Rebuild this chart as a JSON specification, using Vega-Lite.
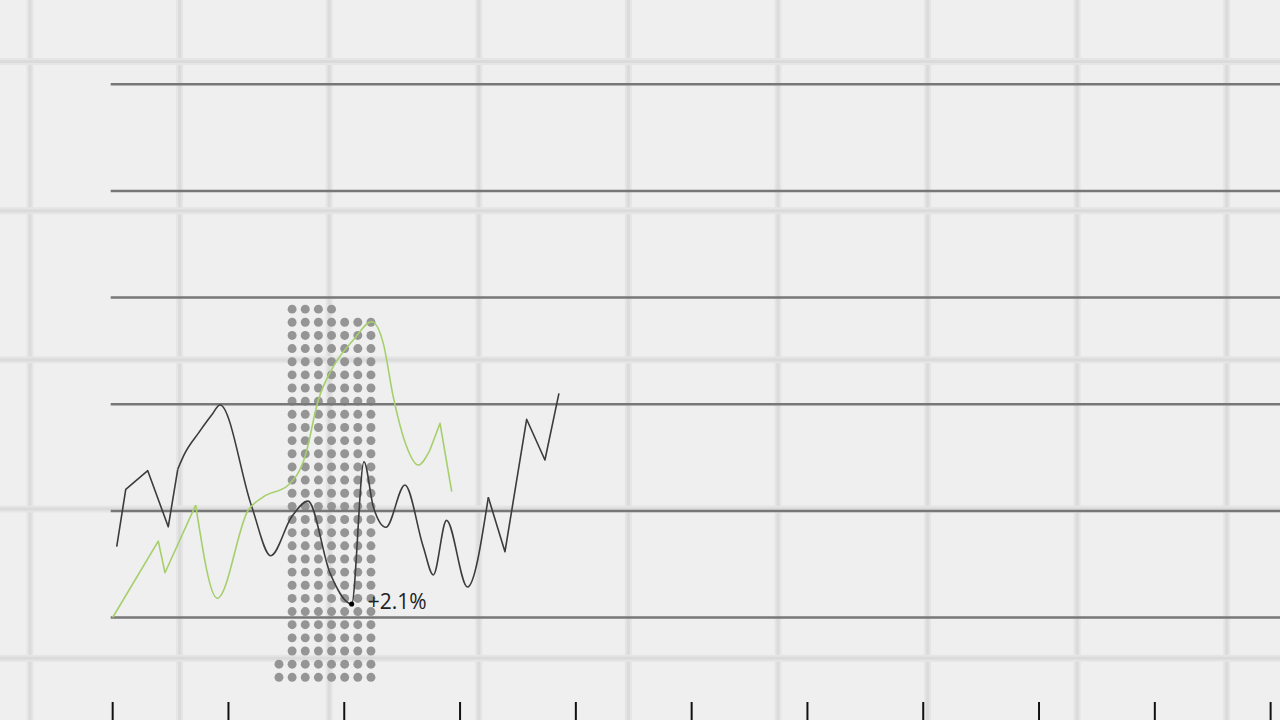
{
  "$schema": "https://vega.github.io/schema/vega-lite/v6.json",
  "description": "Two traces over a dot column, on a paper grid.",
  "width": 1280,
  "height": 720,
  "padding": 0,
  "autosize": {"type": "none"},
  "background": "#efefef",
  "config": {"view": {"stroke": null}},
  "datasets": {
    "paperX": [{"i": 0}, {"i": 1}, {"i": 2}, {"i": 3}, {"i": 4}, {"i": 5}, {"i": 6}, {"i": 7}, {"i": 8}],
    "paperY": [{"j": 0}, {"j": 1}, {"j": 2}, {"j": 3}, {"j": 4}],
    "dots": [
      {"c": 0, "r": 0}, {"c": 0, "r": 1},
      {"c": 1, "r": 0}, {"c": 1, "r": 1}, {"c": 1, "r": 2}, {"c": 1, "r": 3}, {"c": 1, "r": 4}, {"c": 1, "r": 5}, {"c": 1, "r": 6}, {"c": 1, "r": 7}, {"c": 1, "r": 8}, {"c": 1, "r": 9}, {"c": 1, "r": 10}, {"c": 1, "r": 11}, {"c": 1, "r": 12}, {"c": 1, "r": 13}, {"c": 1, "r": 14}, {"c": 1, "r": 15}, {"c": 1, "r": 16}, {"c": 1, "r": 17}, {"c": 1, "r": 18}, {"c": 1, "r": 19}, {"c": 1, "r": 20}, {"c": 1, "r": 21}, {"c": 1, "r": 22}, {"c": 1, "r": 23}, {"c": 1, "r": 24}, {"c": 1, "r": 25}, {"c": 1, "r": 26}, {"c": 1, "r": 27}, {"c": 1, "r": 28},
      {"c": 2, "r": 0}, {"c": 2, "r": 1}, {"c": 2, "r": 2}, {"c": 2, "r": 3}, {"c": 2, "r": 4}, {"c": 2, "r": 5}, {"c": 2, "r": 6}, {"c": 2, "r": 7}, {"c": 2, "r": 8}, {"c": 2, "r": 9}, {"c": 2, "r": 10}, {"c": 2, "r": 11}, {"c": 2, "r": 12}, {"c": 2, "r": 13}, {"c": 2, "r": 14}, {"c": 2, "r": 15}, {"c": 2, "r": 16}, {"c": 2, "r": 17}, {"c": 2, "r": 18}, {"c": 2, "r": 19}, {"c": 2, "r": 20}, {"c": 2, "r": 21}, {"c": 2, "r": 22}, {"c": 2, "r": 23}, {"c": 2, "r": 24}, {"c": 2, "r": 25}, {"c": 2, "r": 26}, {"c": 2, "r": 27}, {"c": 2, "r": 28},
      {"c": 3, "r": 0}, {"c": 3, "r": 1}, {"c": 3, "r": 2}, {"c": 3, "r": 3}, {"c": 3, "r": 4}, {"c": 3, "r": 5}, {"c": 3, "r": 6}, {"c": 3, "r": 7}, {"c": 3, "r": 8}, {"c": 3, "r": 9}, {"c": 3, "r": 10}, {"c": 3, "r": 11}, {"c": 3, "r": 12}, {"c": 3, "r": 13}, {"c": 3, "r": 14}, {"c": 3, "r": 15}, {"c": 3, "r": 16}, {"c": 3, "r": 17}, {"c": 3, "r": 18}, {"c": 3, "r": 19}, {"c": 3, "r": 20}, {"c": 3, "r": 21}, {"c": 3, "r": 22}, {"c": 3, "r": 23}, {"c": 3, "r": 24}, {"c": 3, "r": 25}, {"c": 3, "r": 26}, {"c": 3, "r": 27}, {"c": 3, "r": 28},
      {"c": 4, "r": 0}, {"c": 4, "r": 1}, {"c": 4, "r": 2}, {"c": 4, "r": 3}, {"c": 4, "r": 4}, {"c": 4, "r": 5}, {"c": 4, "r": 6}, {"c": 4, "r": 7}, {"c": 4, "r": 8}, {"c": 4, "r": 9}, {"c": 4, "r": 10}, {"c": 4, "r": 11}, {"c": 4, "r": 12}, {"c": 4, "r": 13}, {"c": 4, "r": 14}, {"c": 4, "r": 15}, {"c": 4, "r": 16}, {"c": 4, "r": 17}, {"c": 4, "r": 18}, {"c": 4, "r": 19}, {"c": 4, "r": 20}, {"c": 4, "r": 21}, {"c": 4, "r": 22}, {"c": 4, "r": 23}, {"c": 4, "r": 24}, {"c": 4, "r": 25}, {"c": 4, "r": 26}, {"c": 4, "r": 27}, {"c": 4, "r": 28},
      {"c": 5, "r": 0}, {"c": 5, "r": 1}, {"c": 5, "r": 2}, {"c": 5, "r": 3}, {"c": 5, "r": 4}, {"c": 5, "r": 5}, {"c": 5, "r": 6}, {"c": 5, "r": 7}, {"c": 5, "r": 8}, {"c": 5, "r": 9}, {"c": 5, "r": 10}, {"c": 5, "r": 11}, {"c": 5, "r": 12}, {"c": 5, "r": 13}, {"c": 5, "r": 14}, {"c": 5, "r": 15}, {"c": 5, "r": 16}, {"c": 5, "r": 17}, {"c": 5, "r": 18}, {"c": 5, "r": 19}, {"c": 5, "r": 20}, {"c": 5, "r": 21}, {"c": 5, "r": 22}, {"c": 5, "r": 23}, {"c": 5, "r": 24}, {"c": 5, "r": 25}, {"c": 5, "r": 26}, {"c": 5, "r": 27},
      {"c": 6, "r": 0}, {"c": 6, "r": 1}, {"c": 6, "r": 2}, {"c": 6, "r": 3}, {"c": 6, "r": 4}, {"c": 6, "r": 5}, {"c": 6, "r": 6}, {"c": 6, "r": 7}, {"c": 6, "r": 8}, {"c": 6, "r": 9}, {"c": 6, "r": 10}, {"c": 6, "r": 11}, {"c": 6, "r": 12}, {"c": 6, "r": 13}, {"c": 6, "r": 14}, {"c": 6, "r": 15}, {"c": 6, "r": 16}, {"c": 6, "r": 17}, {"c": 6, "r": 18}, {"c": 6, "r": 19}, {"c": 6, "r": 20}, {"c": 6, "r": 21}, {"c": 6, "r": 22}, {"c": 6, "r": 23}, {"c": 6, "r": 24}, {"c": 6, "r": 25}, {"c": 6, "r": 26}, {"c": 6, "r": 27},
      {"c": 7, "r": 0}, {"c": 7, "r": 1}, {"c": 7, "r": 2}, {"c": 7, "r": 3}, {"c": 7, "r": 4}, {"c": 7, "r": 5}, {"c": 7, "r": 6}, {"c": 7, "r": 7}, {"c": 7, "r": 8}, {"c": 7, "r": 9}, {"c": 7, "r": 10}, {"c": 7, "r": 11}, {"c": 7, "r": 12}, {"c": 7, "r": 13}, {"c": 7, "r": 14}, {"c": 7, "r": 15}, {"c": 7, "r": 16}, {"c": 7, "r": 17}, {"c": 7, "r": 18}, {"c": 7, "r": 19}, {"c": 7, "r": 20}, {"c": 7, "r": 21}, {"c": 7, "r": 22}, {"c": 7, "r": 23}, {"c": 7, "r": 24}, {"c": 7, "r": 25}, {"c": 7, "r": 26}, {"c": 7, "r": 27}
    ],
    "levels": [{"v": 0}, {"v": 1}, {"v": 2}, {"v": 3}, {"v": 4}, {"v": 5}],
    "ticks": [{"t": 0}, {"t": 1}, {"t": 2}, {"t": 3}, {"t": 4}, {"t": 5}, {"t": 6}, {"t": 7}, {"t": 8}, {"t": 9}, {"t": 10}],
    "series": [
      {"s": "dark", "part": "k1", "interp": "linear", "x": 0.035, "y": 0.664},
      {"s": "dark", "part": "k1", "interp": "linear", "x": 0.113, "y": 1.202},
      {"s": "dark", "part": "k1", "interp": "linear", "x": 0.303, "y": 1.377},
      {"s": "dark", "part": "k1", "interp": "linear", "x": 0.48, "y": 0.851},
      {"s": "dark", "part": "k1", "interp": "linear", "x": 0.562, "y": 1.39},
      {"s": "dark", "part": "k2", "interp": "smooth", "x": 0.562, "y": 1.39},
      {"s": "dark", "part": "k2", "interp": "smooth", "x": 0.625, "y": 1.543},
      {"s": "dark", "part": "k2", "interp": "smooth", "x": 0.739, "y": 1.727},
      {"s": "dark", "part": "k2", "interp": "smooth", "x": 0.855, "y": 1.899},
      {"s": "dark", "part": "k2", "interp": "smooth", "x": 0.927, "y": 1.993},
      {"s": "dark", "part": "k2", "interp": "smooth", "x": 1.201, "y": 1.039},
      {"s": "dark", "part": "k2", "interp": "smooth", "x": 1.365, "y": 0.58},
      {"s": "dark", "part": "k2", "interp": "smooth", "x": 1.546, "y": 0.945},
      {"s": "dark", "part": "k2", "interp": "smooth", "x": 1.687, "y": 1.092},
      {"s": "dark", "part": "k2", "interp": "smooth", "x": 1.877, "y": 0.417},
      {"s": "dark", "part": "k2", "interp": "smooth", "x": 2.064, "y": 0.127},
      {"s": "dark", "part": "k2", "interp": "smooth", "x": 2.17, "y": 1.461},
      {"s": "dark", "part": "k2", "interp": "smooth", "x": 2.251, "y": 1.039},
      {"s": "dark", "part": "k2", "interp": "smooth", "x": 2.36, "y": 0.846},
      {"s": "dark", "part": "k2", "interp": "smooth", "x": 2.524, "y": 1.243},
      {"s": "dark", "part": "k2", "interp": "smooth", "x": 2.682, "y": 0.664},
      {"s": "dark", "part": "k2", "interp": "smooth", "x": 2.769, "y": 0.399},
      {"s": "dark", "part": "k2", "interp": "smooth", "x": 2.883, "y": 0.911},
      {"s": "dark", "part": "k2", "interp": "smooth", "x": 3.064, "y": 0.286},
      {"s": "dark", "part": "k2", "interp": "smooth", "x": 3.244, "y": 1.127},
      {"s": "dark", "part": "k3", "interp": "linear", "x": 3.244, "y": 1.127},
      {"s": "dark", "part": "k3", "interp": "linear", "x": 3.388, "y": 0.617},
      {"s": "dark", "part": "k3", "interp": "linear", "x": 3.575, "y": 1.859},
      {"s": "dark", "part": "k3", "interp": "linear", "x": 3.733, "y": 1.477},
      {"s": "dark", "part": "k3", "interp": "linear", "x": 3.854, "y": 2.102},
      {"s": "green", "part": "g1", "interp": "linear", "x": 0.0, "y": 0.0},
      {"s": "green", "part": "g1", "interp": "linear", "x": 0.394, "y": 0.717},
      {"s": "green", "part": "g1", "interp": "linear", "x": 0.452, "y": 0.42},
      {"s": "green", "part": "g1", "interp": "linear", "x": 0.717, "y": 1.055},
      {"s": "green", "part": "g2", "interp": "smooth", "x": 0.717, "y": 1.055},
      {"s": "green", "part": "g2", "interp": "smooth", "x": 0.904, "y": 0.18},
      {"s": "green", "part": "g2", "interp": "smooth", "x": 1.171, "y": 1.008},
      {"s": "green", "part": "g2", "interp": "smooth", "x": 1.298, "y": 1.13},
      {"s": "green", "part": "g2", "interp": "smooth", "x": 1.517, "y": 1.243},
      {"s": "green", "part": "g2", "interp": "smooth", "x": 1.661, "y": 1.508},
      {"s": "green", "part": "g2", "interp": "smooth", "x": 1.776, "y": 2.04},
      {"s": "green", "part": "g2", "interp": "smooth", "x": 1.905, "y": 2.352},
      {"s": "green", "part": "g2", "interp": "smooth", "x": 2.078, "y": 2.602},
      {"s": "green", "part": "g2", "interp": "smooth", "x": 2.237, "y": 2.774},
      {"s": "green", "part": "g2", "interp": "smooth", "x": 2.337, "y": 2.571},
      {"s": "green", "part": "g2", "interp": "smooth", "x": 2.423, "y": 2.071},
      {"s": "green", "part": "g2", "interp": "smooth", "x": 2.539, "y": 1.602},
      {"s": "green", "part": "g2", "interp": "smooth", "x": 2.639, "y": 1.43},
      {"s": "green", "part": "g2", "interp": "smooth", "x": 2.74, "y": 1.571},
      {"s": "green", "part": "g3", "interp": "linear", "x": 2.74, "y": 1.571},
      {"s": "green", "part": "g3", "interp": "linear", "x": 2.827, "y": 1.821},
      {"s": "green", "part": "g3", "interp": "linear", "x": 2.928, "y": 1.18}
    ],
    "callout": [{"x": 2.064, "y": 0.127, "label": "+2.1%"}]
  },
  "layer": [
    {
      "data": {"name": "paperX"},
      "mark": {"type": "rule", "color": "#e5e5e5", "strokeWidth": 7},
      "encoding": {
        "x": {"field": "i", "type": "quantitative", "axis": null, "scale": {"domain": [-0.2005, 8.356], "nice": false, "zero": false}}
      }
    },
    {
      "data": {"name": "paperX"},
      "mark": {"type": "rule", "color": "#dbdbdb", "strokeWidth": 3},
      "encoding": {
        "x": {"field": "i", "type": "quantitative", "axis": null, "scale": {"domain": [-0.2005, 8.356], "nice": false, "zero": false}}
      }
    },
    {
      "data": {"name": "paperY"},
      "mark": {"type": "rule", "color": "#e5e5e5", "strokeWidth": 7},
      "encoding": {
        "y": {"field": "j", "type": "quantitative", "axis": null, "scale": {"domain": [-0.412, 4.414], "reverse": true, "nice": false, "zero": false}}
      }
    },
    {
      "data": {"name": "paperY"},
      "mark": {"type": "rule", "color": "#dbdbdb", "strokeWidth": 3},
      "encoding": {
        "y": {"field": "j", "type": "quantitative", "axis": null, "scale": {"domain": [-0.412, 4.414], "reverse": true, "nice": false, "zero": false}}
      }
    },
    {
      "data": {"name": "dots"},
      "mark": {"type": "circle", "color": "#959595", "opacity": 1, "size": 80},
      "encoding": {
        "x": {"field": "c", "type": "quantitative", "axis": null, "scale": {"domain": [-21.23, 76.18], "nice": false, "zero": false}},
        "y": {"field": "r", "type": "quantitative", "axis": null, "scale": {"domain": [-3.247, 51.51], "nice": false, "zero": false}}
      }
    },
    {
      "encoding": {
        "x": {"type": "quantitative", "scale": {"domain": [-0.973, 10.081], "nice": false, "zero": false}},
        "y": {"type": "quantitative", "scale": {"domain": [-0.961, 5.791], "nice": false, "zero": false}}
      },
      "layer": [
        {
          "data": {"name": "levels"},
          "mark": {"type": "rule", "color": "#777777", "strokeWidth": 2.5},
          "encoding": {
            "x": {"datum": -0.017, "type": "quantitative", "axis": null},
            "x2": {"datum": 10.081},
            "y": {"field": "v", "type": "quantitative", "axis": null}
          }
        },
        {
          "data": {"name": "ticks"},
          "mark": {"type": "rule", "color": "#111111", "strokeWidth": 2},
          "encoding": {
            "x": {"field": "t", "type": "quantitative", "axis": null},
            "y": {"datum": -0.792, "type": "quantitative", "axis": null},
            "y2": {"datum": -0.961}
          }
        },
        {
          "data": {"name": "series"},
          "transform": [{"filter": "datum.interp === 'smooth'"}],
          "mark": {"type": "line", "interpolate": "monotone", "strokeWidth": 1.6, "strokeJoin": "round"},
          "encoding": {
            "x": {"field": "x", "type": "quantitative", "axis": null},
            "y": {"field": "y", "type": "quantitative", "axis": null},
            "detail": {"field": "part", "type": "nominal"},
            "color": {"field": "s", "type": "nominal", "legend": null, "scale": {"domain": ["dark", "green"], "range": ["#3c3c3c", "#a6cf6c"]}}
          }
        },
        {
          "data": {"name": "series"},
          "transform": [{"filter": "datum.interp === 'linear'"}],
          "mark": {"type": "line", "interpolate": "linear", "strokeWidth": 1.6, "strokeJoin": "round"},
          "encoding": {
            "x": {"field": "x", "type": "quantitative", "axis": null},
            "y": {"field": "y", "type": "quantitative", "axis": null},
            "detail": {"field": "part", "type": "nominal"},
            "color": {"field": "s", "type": "nominal", "legend": null, "scale": {"domain": ["dark", "green"], "range": ["#3c3c3c", "#a6cf6c"]}}
          }
        },
        {
          "data": {"name": "callout"},
          "mark": {"type": "circle", "color": "#000000", "opacity": 1, "size": 26},
          "encoding": {
            "x": {"field": "x", "type": "quantitative", "axis": null},
            "y": {"field": "y", "type": "quantitative", "axis": null}
          }
        },
        {
          "data": {"name": "callout"},
          "mark": {"type": "text", "align": "left", "baseline": "middle", "dx": 16, "dy": -1, "font": "Open Sans", "fontSize": 21, "color": "#222222"},
          "encoding": {
            "x": {"field": "x", "type": "quantitative", "axis": null},
            "y": {"field": "y", "type": "quantitative", "axis": null},
            "text": {"field": "label"}
          }
        }
      ]
    }
  ],
  "resolve": {"scale": {"x": "independent", "y": "independent"}}
}
